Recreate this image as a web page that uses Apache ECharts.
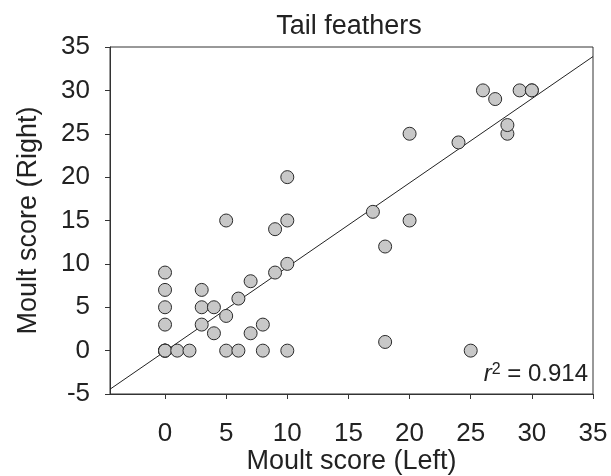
<!DOCTYPE html>
<html>
<head>
<meta charset="utf-8">
<script src="https://cdn.jsdelivr.net/npm/echarts@6/dist/echarts.min.js"></script>
<style>html,body{margin:0;padding:0;background:#fff;}#c{width:611px;height:476px;}</style>
</head>
<body>
<div id="c"></div>
<script>
// Data
const leftScores  = [0,0,0,0,0,0,0,0,1,2,3,3,3,4,4,5,5,5,6,6,7,7,8,8,9,9,10,10,10,10,17,18,18,20,20,24,25,26,27,28,28,29,30,30];
const rightScores = [0,0,0,3,5,7,9,0,0,0,3,5,7,5,2,0,4,15,0,6,2,8,0,3,9,14,0,10,15,20,16,12,1,15,25,24,0,30,29,25,26,30,30,30];
const fitX = [-4.5, 35];
const fitY = [-4.45, 33.9];
const xTicks = [0,5,10,15,20,25,30,35];
const titleText = 'Tail feathers';
const xName = 'Moult score (Left)';
const yName = 'Moult score (Right)';
const r2Value = '0.914';

const points = leftScores.map((x, i) => [x, rightScores[i]]);
const fitLine = fitX.map((x, i) => [x, fitY[i]]);
const FONT = '"Liberation Sans", Arial, sans-serif';
const TXT = '#222';
const AX = '#333';

const chart = echarts.init(document.getElementById('c'), null, {renderer: 'canvas'});
chart.setOption({
  animation: false,
  backgroundColor: '#fff',
  grid: {left: 110, right: 18, top: 47, bottom: 82, show: true, borderColor: AX, borderWidth: 1, containLabel: false, outerBoundsMode: 'none'},
  xAxis: {
    type: 'value', min: -4.5, max: 35,
    name: xName, nameLocation: 'middle', nameGap: 54, nameMoveOverlap: false,
    nameTextStyle: {fontFamily: FONT, fontSize: 27, color: TXT},
    axisLine: {show: true, onZero: false, lineStyle: {color: AX, width: 1}},
    axisTick: {show: true, inside: false, length: 5, customValues: xTicks, lineStyle: {color: AX}},
    axisLabel: {customValues: xTicks, margin: 27, fontFamily: FONT, fontSize: 26, color: TXT},
    splitLine: {show: false}
  },
  yAxis: {
    type: 'value', min: -5, max: 35, interval: 5,
    name: yName, nameLocation: 'middle', nameGap: 68, nameRotate: 90, nameMoveOverlap: false,
    nameTextStyle: {fontFamily: FONT, fontSize: 27, color: TXT},
    axisLine: {show: true, onZero: false, lineStyle: {color: AX, width: 1}},
    axisTick: {show: true, inside: false, length: 5, lineStyle: {color: AX}},
    axisLabel: {margin: 20, fontFamily: FONT, fontSize: 26, color: TXT},
    splitLine: {show: false}
  },
  series: [
    {
      type: 'line', data: fitLine, showSymbol: false, symbol: 'none',
      lineStyle: {color: '#222', width: 1}, z: 1, silent: true
    },
    {
      type: 'scatter', data: points, symbol: 'circle', symbolSize: 13,
      itemStyle: {color: '#c8c8c8', borderColor: '#2a2a2a', borderWidth: 1, opacity: 1}, z: 2
    }
  ],
  graphic: [
    {type: 'text', x: 349, y: 27, style: {text: titleText, fontFamily: FONT, fontSize: 27, fill: TXT, align: 'center', verticalAlign: 'middle'}},
    {type: 'text', x: 588, y: 374, style: {
      text: '{r|r}{s|2}{n| = ' + r2Value + '}',
      align: 'right', verticalAlign: 'middle',
      rich: {
        r: {fontFamily: FONT, fontSize: 24, fontStyle: 'italic', fill: TXT, verticalAlign: 'bottom'},
        s: {fontFamily: FONT, fontSize: 16, fill: TXT, verticalAlign: 'top'},
        n: {fontFamily: FONT, fontSize: 24, fill: TXT, verticalAlign: 'bottom'}
      }
    }}
  ]
});
</script>
</body>
</html>
